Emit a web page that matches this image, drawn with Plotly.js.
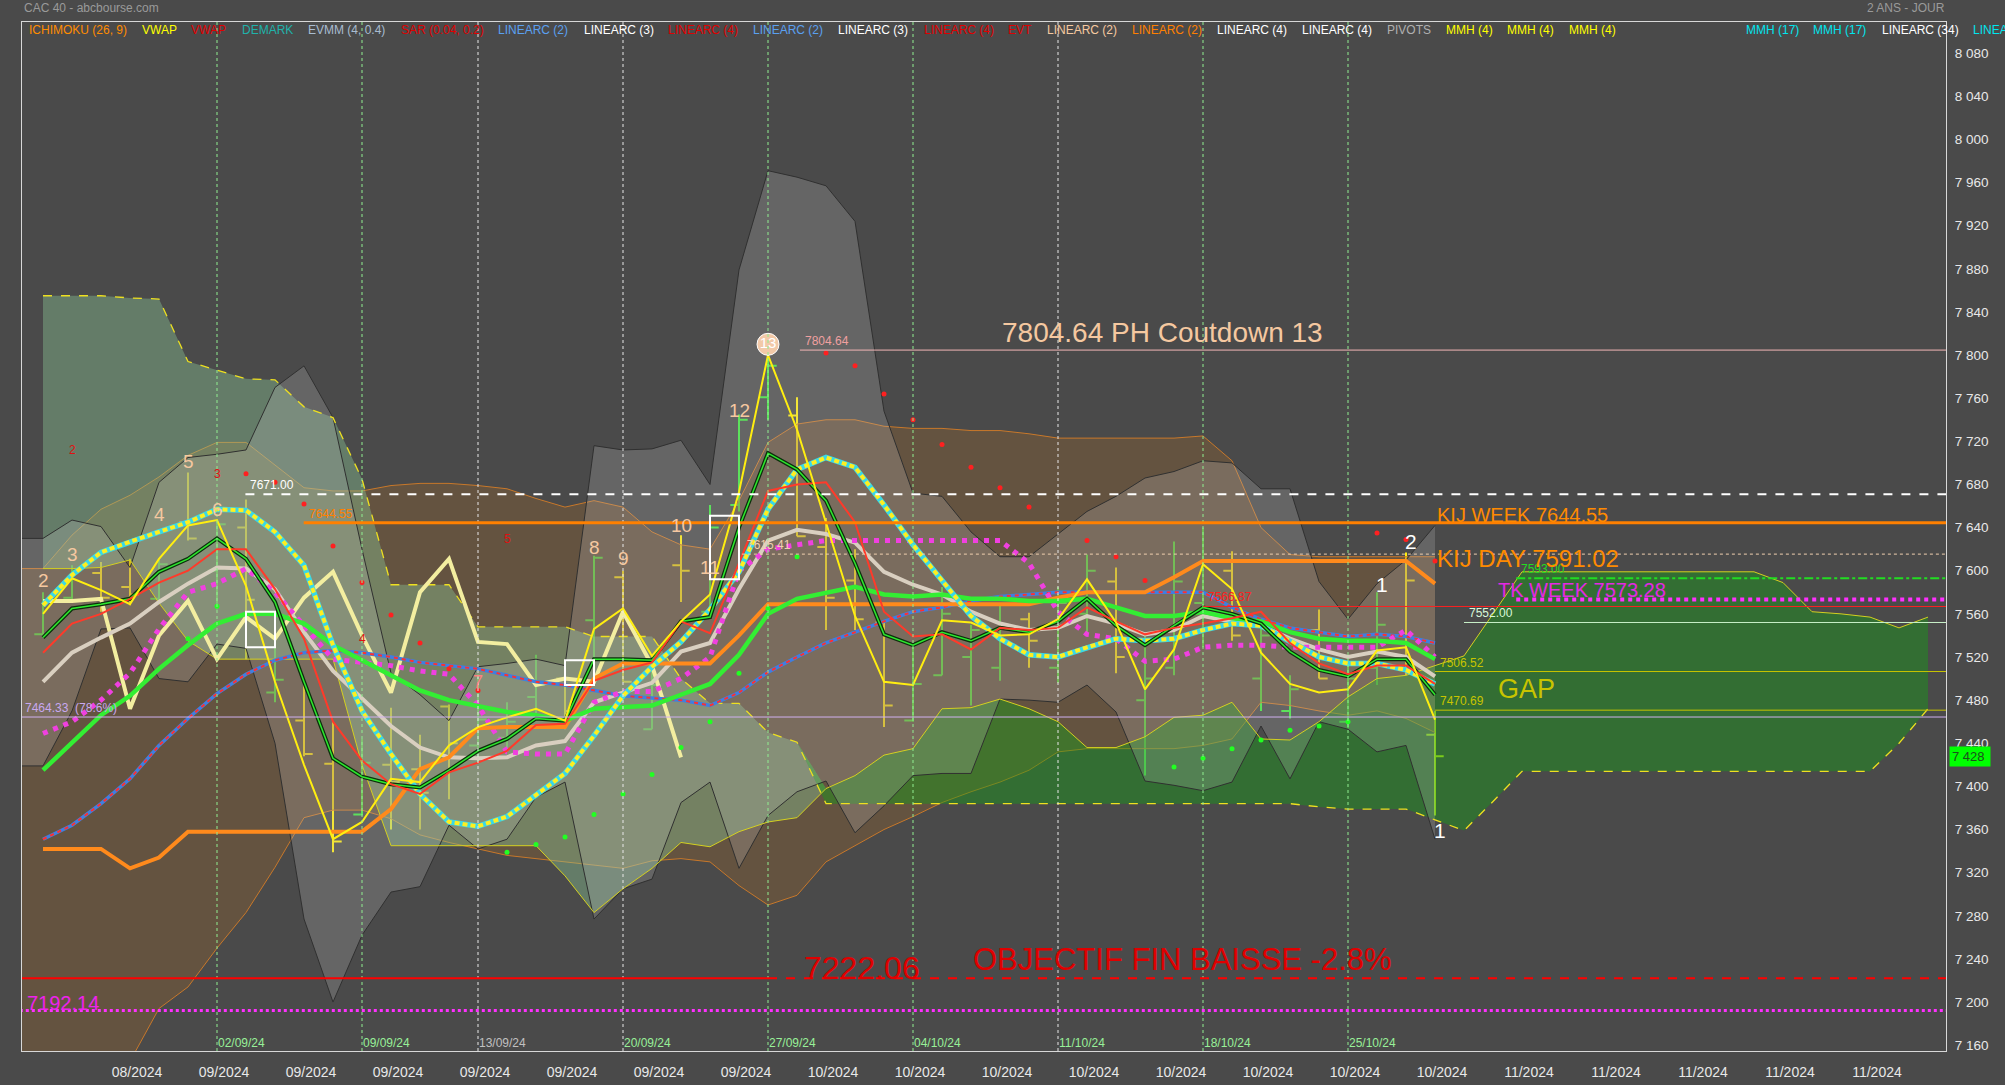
<!DOCTYPE html>
<html><head><meta charset="utf-8">
<script src="https://cdn.plot.ly/plotly-3.0.1.min.js"></script>
<style>html,body{margin:0;padding:0;background:#4a4a4a;overflow:hidden}#chart{width:2005px;height:1085px}</style>
</head><body><div id="chart"></div>
<script>
// ---------------- DATA ----------------
const dates = ['23/08','26/08','27/08','28/08','29/08','30/08','02/09','03/09','04/09','05/09','06/09','09/09','10/09','11/09','12/09','13/09','16/09','17/09','18/09','19/09','20/09','23/09','24/09','25/09','26/09','27/09','30/09','01/10','02/10','03/10','04/10','07/10','08/10','09/10','10/10','11/10','14/10','15/10','16/10','17/10','18/10','21/10','22/10','23/10','24/10','25/10','28/10','29/10','30/10'];
const open  = [7541,7575,7598,7585,7574,7645,7600,7640,7487,7461,7421,7374,7420,7416,7474,7438,7445,7483,7500,7554,7594,7453,7605,7562,7661,7761,7744,7622,7591,7552,7461,7503,7520,7510,7555,7510,7560,7590,7480,7510,7570,7600,7500,7470,7545,7460,7510,7610,7448];
const high  = [7580,7605,7608,7611,7610,7691,7645,7666,7530,7497,7460,7444,7473,7448,7476,7504,7478,7522,7515,7614,7600,7522,7633,7661,7745,7804,7761,7649,7620,7552,7532,7585,7550,7569,7561,7585,7615,7603,7540,7627,7640,7618,7552,7503,7564,7512,7580,7617,7470];
const low   = [7538,7570,7562,7568,7572,7628,7564,7518,7478,7428,7339,7373,7360,7360,7388,7422,7432,7464,7453,7518,7497,7453,7571,7555,7655,7740,7632,7545,7545,7455,7460,7503,7475,7498,7510,7496,7540,7505,7410,7503,7529,7535,7470,7463,7500,7454,7494,7503,7373];
const close = [7572,7600,7575,7578,7606,7630,7643,7573,7499,7430,7349,7422,7404,7394,7440,7462,7460,7494,7470,7612,7497,7494,7600,7640,7740,7790,7632,7575,7555,7475,7495,7560,7545,7550,7535,7570,7600,7520,7500,7590,7610,7540,7540,7490,7500,7500,7550,7591,7428];

const vwapRed    = [7524,7551,7560,7574,7589,7600,7620,7620,7583,7537,7460,7424,7402,7393,7413,7422,7433,7457,7458,7498,7508,7515,7553,7542,7607,7674,7680,7682,7645,7562,7539,7541,7527,7547,7545,7547,7566,7553,7541,7547,7551,7556,7562,7533,7514,7504,7512,7512,7495];
const mmhGreen   = [7538,7565,7569,7574,7599,7611,7630,7611,7571,7497,7426,7409,7402,7399,7415,7433,7444,7463,7461,7518,7518,7517,7553,7557,7640,7709,7694,7665,7607,7541,7531,7543,7535,7547,7543,7553,7574,7549,7531,7549,7566,7560,7551,7525,7508,7502,7518,7518,7485];
const evmmGreen  = [7415,7441,7466,7484,7509,7531,7551,7560,7560,7551,7531,7517,7503,7489,7480,7475,7469,7466,7461,7472,7474,7475,7485,7495,7522,7560,7574,7580,7585,7578,7576,7578,7574,7574,7572,7572,7574,7566,7558,7558,7562,7556,7553,7543,7537,7535,7535,7533,7518];
const linCyan    = [7568,7596,7617,7627,7636,7645,7657,7656,7636,7605,7531,7470,7430,7393,7367,7363,7372,7392,7412,7447,7484,7511,7534,7564,7599,7657,7694,7705,7696,7661,7624,7591,7558,7537,7522,7520,7529,7537,7535,7537,7545,7551,7549,7535,7520,7514,7514,7508,7495];
const linBlue    = [7351,7364,7384,7407,7438,7463,7486,7504,7517,7524,7526,7524,7520,7515,7512,7509,7503,7497,7494,7489,7484,7482,7480,7475,7487,7506,7520,7533,7543,7553,7562,7566,7572,7576,7578,7580,7580,7580,7580,7580,7580,7566,7555,7547,7543,7539,7541,7539,7533];
const linMagenta = [7449,7460,7480,7505,7546,7580,7588,7602,7580,7549,7518,7515,7512,7507,7504,7475,7432,7430,7430,7478,7488,7488,7500,7520,7600,7620,7624,7628,7628,7628,7628,7628,7628,7628,7607,7562,7541,7537,7516,7518,7529,7531,7531,7529,7529,7529,7529,7545,7520];
const linBeige   = [7497,7524,7538,7551,7571,7588,7603,7602,7583,7543,7507,7481,7456,7436,7427,7426,7427,7438,7442,7478,7487,7496,7525,7533,7583,7628,7638,7634,7626,7599,7587,7578,7562,7551,7545,7547,7558,7551,7541,7545,7558,7553,7549,7537,7527,7520,7525,7520,7502];
const linPale    = [7572,7572,7574,7472,7540,7572,7518,7557,7537,7575,7599,7540,7487,7580,7611,7534,7532,7494,7500,7497,7562,7512,7427];
const kijunDay   = [7342,7342,7342,7324,7334,7358,7358,7358,7358,7358,7358,7358,7379,7416,7427,7454,7455,7455,7455,7500,7514,7514,7514,7514,7540,7569,7569,7569,7569,7569,7569,7569,7569,7569,7569,7575,7580,7580,7580,7594,7609,7609,7609,7609,7609,7609,7609,7609,7588];
const mmhYellow  = [7560,7593,7582,7569,7611,7642,7647,7586,7497,7420,7351,7367,7407,7404,7438,7455,7464,7472,7461,7546,7565,7521,7553,7578,7673,7800,7731,7645,7558,7497,7494,7554,7552,7540,7541,7555,7592,7552,7490,7527,7606,7583,7524,7495,7487,7490,7526,7529,7462];

// bands start one bar before the first date
const grayUp = [7630,7630,7647,7641,7603,7682,7705,7708,7712,7770,7790,7742,7620,7505,7485,7461,7511,7514,7518,7512,7716,7712,7713,7721,7680,7879,7971,7965,7957,7924,7748,7672,7669,7636,7613,7613,7634,7655,7669,7686,7692,7702,7700,7676,7676,7590,7555,7588,7610,7642];
const grayLo = [7419,7419,7470,7546,7547,7500,7497,7532,7528,7440,7277,7200,7262,7302,7307,7364,7342,7351,7390,7404,7277,7305,7314,7385,7404,7324,7373,7395,7405,7357,7382,7410,7412,7412,7481,7480,7478,7494,7469,7405,7401,7396,7404,7456,7407,7460,7453,7432,7438,7351];
const weekUp = [7602,7602,7633,7657,7670,7687,7707,7719,7719,7698,7677,7674,7674,7679,7681,7681,7679,7676,7667,7659,7665,7659,7636,7624,7620,7665,7719,7736,7740,7740,7734,7732,7732,7730,7730,7727,7723,7723,7723,7723,7723,7725,7702,7640,7615,7613,7613,7613,7613,7613];
const weekLo = [7000,7000,7040,7090,7145,7194,7214,7250,7283,7325,7371,7378,7378,7370,7355,7348,7342,7336,7333,7330,7327,7324,7331,7333,7330,7308,7290,7299,7330,7345,7360,7372,7385,7395,7404,7415,7432,7435,7435,7435,7435,7438,7444,7478,7475,7470,7466,7470,7463,7450];

// ichimoku day cloud (projected 17 bars beyond last date)
const spanA = [7602,7602,7603,7610,7570,7535,7518,7518,7518,7518,7518,7420,7345,7345,7345,7345,7345,7345,7317,7283,7305,7324,7348,7344,7358,7367,7371,7398,7410,7429,7435,7472,7473,7481,7472,7460,7436,7436,7446,7464,7466,7478,7444,7443,7460,7483,7500,7503,7512,7521,7560,7599,7599,7599,7599,7599,7599,7599,7599,7599,7589,7562,7560,7557,7547,7557];
const spanB = [7855,7855,7855,7853,7852,7794,7786,7778,7777,7752,7742,7685,7587,7587,7587,7548,7548,7548,7548,7539,7539,7539,7500,7477,7477,7450,7441,7384,7384,7384,7384,7384,7384,7384,7384,7384,7384,7384,7384,7384,7384,7384,7384,7384,7381,7379,7379,7379,7369,7359,7386,7414,7414,7414,7414,7414,7414,7414,7414,7414,7414,7414,7414,7414,7440,7472];

const sarRedDates = ['03/09','04/09','05/09','06/09','09/09','10/09','11/09','12/09','13/09','01/10','02/10','03/10','04/10','07/10','08/10','09/10','10/10','14/10','15/10','16/10','28/10','29/10','30/10'];
const sarRedVals  = [7690,7682,7662,7623,7589,7559,7533,7509,7489,7802,7790,7764,7740,7717,7696,7677,7659,7628,7613,7591,7635,7629,7609];
const sarGreenDates = ['30/08','02/09','16/09','17/09','18/09','19/09','20/09','23/09','24/09','25/09','26/09','27/09','30/09','17/10','18/10','21/10','22/10','23/10','24/10','25/10'];
const sarGreenVals  = [7537,7567,7339,7346,7353,7374,7393,7411,7436,7460,7505,7565,7613,7418,7426,7435,7443,7452,7456,7460];

const countDates = ['23/08','26/08','29/08','30/08','02/09','19/09','20/09','24/09','25/09','26/09'];
const countText  = ['2','3','4','5','6','8','9','10','11','12'];
const countVals  = [7591,7615,7652,7701,7657,7622,7611,7642,7603,7749];
const peakDate = '27/09', peakText = '13', peakVal = 7810;
const redDigitDates = ['26/08','02/09','09/09','16/09'];
const redDigitText  = ['2','3','4','5'];
const redDigitVals  = [7712,7690,7537,7629];
const pinkDate = '13/09', pinkText = '7', pinkVal = 7497;
const whiteDates = ['28/10','29/10','30/10'];
const whiteText  = ['1','2','1'];
const whiteVals  = [7587,7627,7359];
const boxDates = ['03/09','18/09','25/09'];
const boxLow   = [7529,7494,7592];
const boxHigh  = [7562,7517,7651];

const weekDates  = ['02/09','09/09','13/09','20/09','27/09','04/10','11/10','18/10','25/10'];
const weekLabels = ['02/09/24','09/09/24','13/09/24','20/09/24','27/09/24','04/10/24','11/10/24','18/10/24','25/10/24'];

const levelVals = [7804.64,7671.00,7644.55,7615.41,7593.00,7573.28,7566.87,7552.00,7506.52,7470.69,7464.33,7222.06,7222.06,7192.14];
const levelText = ['7804.64','7671.00','7644.55','7615.41','7593.00','','7566.87','7552.00','7506.52','7470.69','7464.33  (78.6%)','','',''];

const bigText = ['7804.64 PH Coutdown 13','KIJ WEEK 7644.55','KIJ DAY 7591.02','TK WEEK 7573.28','GAP','7222.06','OBJECTIF FIN BAISSE -2.8%','7192.14'];
const bigVals = [7821,7652,7611,7582,7490,7232,7239,7199];

const xTickLabels = ['08/2024','09/2024','09/2024','09/2024','09/2024','09/2024','09/2024','09/2024','10/2024','10/2024','10/2024','10/2024','10/2024','10/2024','10/2024','10/2024','11/2024','11/2024','11/2024','11/2024','11/2024'];
const lastPrice = 7428;

const legendText = ['ICHIMOKU (26, 9)','VWAP','VWAP','DEMARK','EVMM (4, 0.4)','SAR (0.04, 0.2)','LINEARC (2)','LINEARC (3)','LINEARC (4)','LINEARC (2)','LINEARC (3)','LINEARC (4)','EVT','LINEARC (2)','LINEARC (2)','LINEARC (4)','LINEARC (4)','PIVOTS','MMH (4)','MMH (4)','MMH (4)','MMH (17)','MMH (17)','LINEARC (34)','LINEARC (34)'];

// ---------------- STYLE / POSITIONS ----------------
const FONT = 'Liberation Sans, Arial, sans-serif';
const legendPx = [27,140,189,240,306,399,496,582,666,751,836,922,1006,1045,1130,1215,1300,1385,1444,1505,1567,1744,1811,1880,1971];
const legendColor = ['#ff8c00','#ffff00','#e00000','#20b2aa','#a8bcd0','#e00000','#5aa0f0','#ffffff','#e00000','#5aa0f0','#ffffff','#e00000','#e00000','#f5c9a0','#ff8000','#ffffff','#ffffff','#b0b0b0','#ffff00','#ffff00','#ffff00','#00e5ee','#00e5ee','#ffffff','#00e5ee'];
const levelStyle = [
  {x0:26.1, x1:65.7, color:'#f2b6b6', width:1, dash:'solid', tc:'#f0a0a0'},
  {x0:6.98, x1:65.7, color:'#ffffff', width:2, dash:'dash', tc:'#ffffff'},
  {x0:8.99, x1:65.7, color:'#ff8000', width:3, dash:'solid', tc:'#ff8000'},
  {x0:24.1, x1:65.7, color:'#f0d0b0', width:1, dash:'dot', tc:'#f0d0b0'},
  {x0:50.8, x1:65.7, color:'#22dd22', width:2, dash:'dashdot', tc:'#22dd22'},
  {x0:50.8, x1:65.7, color:'#ff30ff', width:4, dash:'dot', tc:'#ff30ff'},
  {x0:40.0, x1:65.7, color:'#ff2020', width:1, dash:'solid', tc:'#ff2020'},
  {x0:49.0, x1:65.7, color:'#c8f0c8', width:1, dash:'solid', tc:'#d8f8d8'},
  {x0:48.0, x1:65.7, color:'#c8c400', width:1, dash:'solid', tc:'#c8c400'},
  {x0:48.0, x1:65.7, color:'#c8c400', width:1, dash:'solid', tc:'#c8c400'},
  {x0:-0.8, x1:65.7, color:'#d0b0f0', width:1, dash:'solid', tc:'#c8a8f0'},
  {x0:-0.8, x1:25.0, color:'#ff0000', width:2, dash:'solid', tc:'#ff0000'},
  {x0:25.0, x1:65.7, color:'#ff0000', width:2, dash:'dash', tc:'#ff0000'},
  {x0:-0.8, x1:65.7, color:'#ff30ff', width:3, dash:'dot', tc:'#ff30ff'}
];
const bigStyle = [
  {x:33.0, size:28, color:'#f5c8a0'},
  {x:48.0, size:20, color:'#ff8a00'},
  {x:48.0, size:24, color:'#ff8a00'},
  {x:50.1, size:20, color:'#e428e4'},
  {x:50.1, size:27, color:'#c8c400'},
  {x:26.17, size:32, color:'#e00000'},
  {x:32.0, size:31, color:'#e00000'},
  {x:-0.62, size:20, color:'#ee22ee'}
];
const weekLineColor = ['#90ee90','#90ee90','#e8e8e8','#e8e8e8','#90ee90','#90ee90','#e8e8e8','#90ee90','#90ee90'];
const weekTextColor = ['#98f098','#98f098','#c0c0c0','#98f098','#98f098','#98f098','#98f098','#98f098','#98f098'];

// ---------------- BUILD ----------------
const X = d => dates.indexOf(d);
const idx = dates.map((d, i) => i);
const bandX = weekUp.map((v, i) => i - 1);
const cloudX = spanA.map((v, i) => i);
const cloudMax = spanA.map((a, i) => Math.max(a, spanB[i]));
const PW = 1924, PH = 1029, ML = 22, MT = 22;

const traces = [];
const line = (x, y, color, width, dash) => ({x, y, type:'scatter', mode:'lines', line:{color, width, dash:dash||'solid'}, hoverinfo:'skip'});

// weekly cloud
traces.push(line(bandX, weekLo, '#c8782a', 1));
traces.push(Object.assign(line(bandX, weekUp, '#c8782a', 1), {fill:'tonexty', fillcolor:'rgba(150,100,45,0.35)'}));
// day cloud fills
traces.push(line(cloudX, spanA, 'rgba(0,0,0,0)', 0));
traces.push(Object.assign(line(cloudX, cloudMax, 'rgba(0,0,0,0)', 0), {fill:'tonexty', fillcolor:'rgba(140,200,150,0.40)'}));
traces.push(line(cloudX, spanB, 'rgba(0,0,0,0)', 0));
traces.push(Object.assign(line(cloudX, cloudMax, 'rgba(0,0,0,0)', 0), {fill:'tonexty', fillcolor:'rgba(20,158,20,0.43)'}));
// gray band
traces.push(line(bandX, grayLo, '#303030', 1));
traces.push(Object.assign(line(bandX, grayUp, '#303030', 1), {fill:'tonexty', fillcolor:'rgba(200,200,200,0.22)'}));
// cloud borders
traces.push(line(cloudX, spanA, '#d4d020', 1));
traces.push(line(cloudX, spanB, '#eee020', 1.3, 'dash'));
// indicator lines
traces.push(line(idx.slice(0, linPale.length), linPale, '#f3eea0', 4));
traces.push(line(idx, linBeige, '#d9cfc0', 4));
traces.push(line(idx, linBlue, '#3f7fe0', 3.5));
traces.push(line(idx, linBlue, '#ff3030', 2, '4px,4px'));
traces.push(line(idx, linMagenta, '#f040e0', 5, '5px,6px'));
traces.push(line(idx, kijunDay, '#ff8a1c', 4));
traces.push(line(idx, evmmGreen, '#33ee33', 4.5));
traces.push(line(idx, linCyan, '#38d8e8', 5.5));
traces.push(line(idx, linCyan, '#ffee20', 4, '5px,3px'));
traces.push(line(idx, mmhGreen, '#0c300c', 4));
traces.push(line(idx, mmhGreen, '#2ee82e', 1.5));
traces.push(line(idx, vwapRed, '#ff3a2a', 2));
traces.push(line(idx, mmhYellow, '#ffee10', 2));
// SAR
traces.push({x:sarRedDates.map(X), y:sarRedVals, type:'scatter', mode:'markers', marker:{color:'#ff2020', size:5}, hoverinfo:'skip'});
traces.push({x:sarGreenDates.map(X), y:sarGreenVals, type:'scatter', mode:'markers', marker:{color:'#22ff22', size:5}, hoverinfo:'skip'});
// OHLC
const n = dates.length;
traces.push({type:'ohlc', x:idx.slice(0, n-1), open:open.slice(0, n-1), high:high.slice(0, n-1), low:low.slice(0, n-1), close:close.slice(0, n-1),
  increasing:{line:{color:'#3ee83e', width:2}}, decreasing:{line:{color:'#ffee10', width:2}}, tickwidth:0.3, hoverinfo:'skip'});
traces.push({type:'ohlc', x:idx.slice(n-1), open:open.slice(n-1), high:high.slice(n-1), low:low.slice(n-1), close:close.slice(n-1),
  increasing:{line:{color:'#c8f020', width:2}}, decreasing:{line:{color:'#c8f020', width:2}}, tickwidth:0.3, hoverinfo:'skip'});
// countdown 13 circle
traces.push({x:[X(peakDate)], y:[peakVal], type:'scatter', mode:'markers+text', text:[peakText], textposition:'middle center',
  textfont:{color:'#ffffff', size:15, family:FONT}, marker:{size:22, color:'#f2c9a8', line:{color:'#ffffff', width:1}}, hoverinfo:'skip'});

// shapes
const shapes = [];
weekDates.forEach((d, i) => shapes.push({type:'line', xref:'x', yref:'paper', x0:X(d), x1:X(d), y0:0, y1:1, line:{color:weekLineColor[i], width:1, dash:'3px,3px'}, layer:'above'}));
levelVals.forEach((v, i) => { const s = levelStyle[i]; shapes.push({type:'line', xref:'x', yref:'y', x0:s.x0, x1:s.x1, y0:v, y1:v, line:{color:s.color, width:s.width, dash:s.dash}, layer:'above'}); });
boxDates.forEach((d, i) => shapes.push({type:'rect', xref:'x', yref:'y', x0:X(d), x1:X(d)+1, y0:boxLow[i], y1:boxHigh[i], line:{color:'#ffffff', width:2}, fillcolor:'rgba(0,0,0,0)', layer:'above'}));

// annotations
const ann = [];
const txt = (o) => Object.assign({showarrow:false, font:{family:FONT}}, o);
ann.push(txt({xref:'paper', yref:'paper', x:0, y:1+(MT-8)/PH, xanchor:'left', yanchor:'middle', text:'CAC 40 - abcbourse.com', font:{family:FONT, size:12, color:'#9a9a9a'}}));
ann.push(txt({xref:'paper', yref:'paper', x:(1947-ML)/PW, y:1+(MT-8)/PH, xanchor:'right', yanchor:'middle', text:'2 ANS - JOUR', font:{family:FONT, size:12, color:'#9a9a9a'}}));
legendText.forEach((t, i) => ann.push(txt({xref:'paper', yref:'paper', x:(legendPx[i]-ML)/PW, y:1-(30-MT)/PH, xanchor:'left', yanchor:'middle', text:t, font:{family:FONT, size:12, color:legendColor[i]}})));
levelVals.forEach((v, i) => { if (!levelText[i]) return; const s = levelStyle[i];
  ann.push(txt({xref:'x', yref:'y', x:s.x0 < 0 ? -0.7 : s.x0 + 0.1, y:v, xanchor:'left', yanchor:'bottom', text:levelText[i], font:{family:FONT, size:12, color:s.tc}})); });
bigText.forEach((t, i) => { const s = bigStyle[i];
  ann.push(txt({xref:'x', yref:'y', x:s.x, y:bigVals[i], xanchor:'left', yanchor:'middle', text:t, font:{family:FONT, size:s.size, color:s.color}})); });
countDates.forEach((d, i) => ann.push(txt({xref:'x', yref:'y', x:X(d), y:countVals[i], xanchor:'center', yanchor:'middle', text:countText[i], font:{family:FONT, size:19, color:'#f5c8a0'}})));
redDigitDates.forEach((d, i) => ann.push(txt({xref:'x', yref:'y', x:X(d), y:redDigitVals[i], xanchor:'center', yanchor:'middle', text:redDigitText[i], font:{family:FONT, size:12, color:'#e01010'}})));
ann.push(txt({xref:'x', yref:'y', x:X(pinkDate), y:pinkVal, xanchor:'center', yanchor:'middle', text:pinkText, font:{family:FONT, size:18, color:'#ff8080'}}));
whiteDates.forEach((d, i) => ann.push(txt({xref:'x', yref:'y', x:X(d), y:whiteVals[i], xanchor:'center', yanchor:'middle', xshift:5, text:whiteText[i], font:{family:FONT, size:21, color:'#ffffff'}})));
weekDates.forEach((d, i) => ann.push(txt({xref:'x', yref:'paper', x:X(d), y:8/PH, xanchor:'left', yanchor:'middle', xshift:-1, text:weekLabels[i], font:{family:FONT, size:12, color:weekTextColor[i]}})));
ann.push(txt({xref:'paper', yref:'y', x:1, y:lastPrice, xanchor:'left', yanchor:'middle', xshift:3, text:'7 428 ', bgcolor:'#00ff00', borderpad:2, font:{family:FONT, size:13, color:'#1e4e1e'}}));

const tickvals = xTickLabels.map((t, k) => 3.24 + 3*k);

const layout = {
  width:2005, height:1085,
  margin:{l:ML, r:59, t:MT, b:34, pad:0},
  paper_bgcolor:'#4a4a4a', plot_bgcolor:'#4a4a4a',
  separators:'. ', showlegend:false,
  font:{family:FONT, color:'#e6e6e6'},
  xaxis:{range:[-0.724, 65.62], showgrid:false, zeroline:false, showline:true, mirror:true, linecolor:'#d8d8d8', linewidth:1,
    tickmode:'array', tickvals:tickvals, ticktext:xTickLabels, ticks:'', tickfont:{family:FONT, size:14, color:'#e8e8e8'},
    ticklabelstandoff:8, rangeslider:{visible:false}, fixedrange:true},
  yaxis:{range:[7154.6, 8108.9], side:'right', showgrid:false, zeroline:false, showline:true, mirror:true, linecolor:'#d8d8d8', linewidth:1,
    tickmode:'linear', tick0:7160, dtick:40, tickformat:',d', ticks:'', tickfont:{family:FONT, size:13.5, color:'#e8e8e8'},
    ticklabelstandoff:5, fixedrange:true},
  shapes:shapes, annotations:ann
};
Plotly.newPlot('chart', traces, layout, {staticPlot:true, displayModeBar:false});
</script>
</body></html>
